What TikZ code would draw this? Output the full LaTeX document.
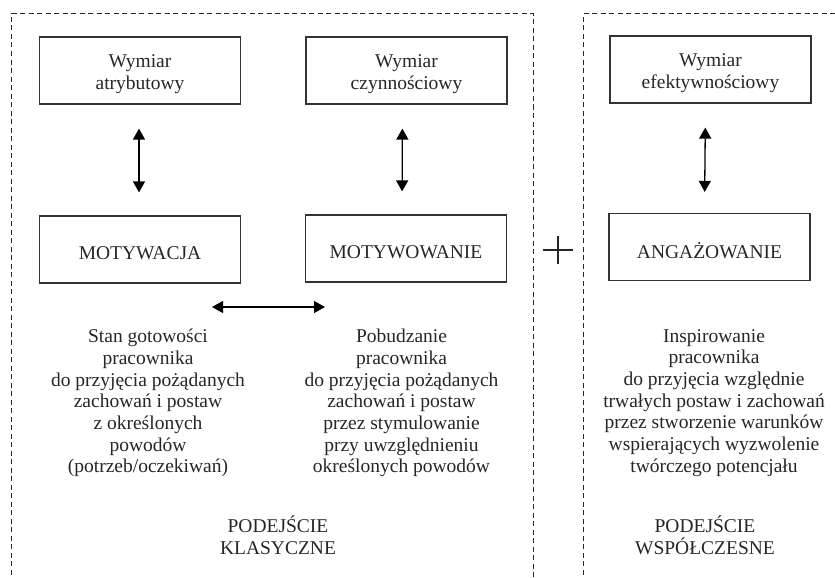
\documentclass[tikz,border=0pt]{standalone}
\usepackage{fontspec}
\setmainfont{Liberation Serif}
\usetikzlibrary{arrows.meta}
\newcommand\diagfont{\fontsize{19.5}{21.7}\selectfont}
\begin{document}
\begin{tikzpicture}[x=1pt,y=-1pt,
  box/.style={draw=black!80, line width=1.2pt, minimum width=201pt, minimum height=67pt, inner sep=0pt},
  btxt/.style={align=center, font=\diagfont, text=black!85, inner sep=0pt, yshift=-3.5pt},
  txt/.style={align=center, font=\diagfont, text=black!85, inner sep=0pt, anchor=north},
  frame/.style={draw=black!85, line width=1pt, dash pattern=on 5pt off 3.5pt},
  arr/.style={draw=black, line width=1.3pt, {Triangle[width=12pt,length=11pt]}-{Triangle[width=12pt,length=11pt]}}
]
\useasboundingbox (0,0) rectangle (835,578);
\clip (0,0) rectangle (835,578);
% dashed frames
\draw[frame] (11,600) -- (11,14) -- (533,14) -- (533,600);
\draw[frame] (583,600) -- (583,14) -- (860,14);
% boxes
\node[box, label={[btxt]center:Wymiar\\atrybutowy}] (wa) at (140,70.5) {};
\node[box, label={[btxt]center:Wymiar\\czynnościowy}] (wc) at (406.5,70.5) {};
\node[box, label={[btxt]center:Wymiar\\efektywnościowy}] (we) at (710.5,69.5) {};
\node[box, label={[btxt]center:MOTYWACJA}] (mw) at (140,249.5) {};
\node[box, label={[btxt]center:MOTYWOWANIE}] (mo) at (406,248.5) {};
\node[box, label={[btxt]center:ANGAŻOWANIE}] (an) at (709.5,247) {};
% vertical arrows
\draw[arr, shorten <=24pt, shorten >=23pt] ([xshift=-1pt]wa.south) -- ([xshift=-1pt]mw.north);
\draw[arr, shorten <=24pt, shorten >=23pt] ([xshift=-4pt]wc.south) -- ([xshift=-4pt]mo.north);
\draw[arr, shorten <=24pt, shorten >=21pt] ([xshift=-5pt]we.south) -- ([xshift=-5pt]an.north);
% horizontal arrow
\coordinate (hl) at (212,307);
\coordinate (hr) at (325,307);
\draw[arr] (hl) -- (hr);
% plus sign
\coordinate (pc) at (558,250);
\draw[line width=1.5pt, black!85] ([xshift=-15pt]pc) -- ([xshift=15pt]pc) ([yshift=-14pt]pc) -- ([yshift=14pt]pc);
% texts
\node[txt] (t1) at (148,329) {Stan gotowości\\pracownika\\do przyjęcia pożądanych\\zachowań i postaw\\z określonych\\powodów\\(potrzeb/oczekiwań)};
\node[txt] (t2) at (401.5,329) {Pobudzanie\\pracownika\\do przyjęcia pożądanych\\zachowań i postaw\\przez stymulowanie\\przy uwzględnieniu\\określonych powodów};
\node[txt] (t3) at (714,329) {Inspirowanie\\pracownika\\do przyjęcia względnie\\trwałych postaw i zachowań\\przez stworzenie warunków\\wspierających wyzwolenie\\twórczego potencjału};
\node[txt] (p1) at (278,516) {PODEJŚCIE\\KLASYCZNE};
\node[txt] (p2) at (705,516) {PODEJŚCIE\\WSPÓŁCZESNE};
\end{tikzpicture}
\end{document}
